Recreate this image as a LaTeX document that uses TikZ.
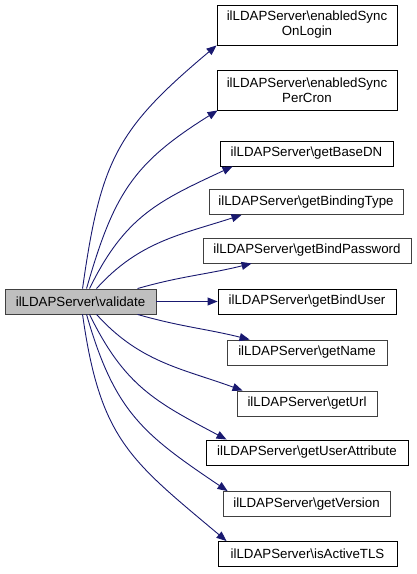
\documentclass[tikz,border=0pt]{standalone}
\usepackage{fontspec}
\setmainfont{Liberation Sans}
\definecolor{edgeblue}{RGB}{25, 25, 112}
\definecolor{framegray}{RGB}{64, 64, 64}
\definecolor{mainfill}{RGB}{191, 191, 191}
\usetikzlibrary{arrows.meta, positioning}

\begin{document}
\begin{tikzpicture}[x=1pt, y=1pt,
  fn/.style={draw=#1, fill=white, line width=0.9pt, minimum height=25pt, inner sep=0pt, align=center, font=\fontsize{13.3}{15}\selectfont},
  fn/.default=black,
  call/.style={draw=edgeblue, line width=0.9pt, -{Triangle[length=10pt, width=8pt]}},
]
  \useasboundingbox (0,0) rectangle (416,574);
  \node[fn=framegray, fill=mainfill, minimum width=151pt] (validate) at (80.5,272.5) {ilLDAPServer\textbackslash validate};

  \node[fn, minimum width=180pt, minimum height=40pt] (login) at (307,549) {ilLDAPServer\textbackslash enabledSync\\OnLogin};
  \node[fn, minimum width=180pt, minimum height=40pt] (percron) at (307,484) {ilLDAPServer\textbackslash enabledSync\\PerCron};
  \node[fn, minimum width=173pt] (basedn) at (306.5,420.5) {ilLDAPServer\textbackslash getBaseDN};
  \node[fn=framegray, minimum width=194pt] (bindingtype) at (306,372) {ilLDAPServer\textbackslash getBindingType};
  \node[fn=framegray, minimum width=208pt] (bindpw) at (307,323.5) {ilLDAPServer\textbackslash getBindPassword};
  \node[fn, minimum width=178pt] (binduser) at (307,272.5) {ilLDAPServer\textbackslash getBindUser};
  \node[fn=framegray, minimum width=160pt] (name) at (307,221.5) {ilLDAPServer\textbackslash getName};
  \node[fn=framegray, minimum width=140pt] (url) at (307,170.5) {ilLDAPServer\textbackslash getUrl};
  \node[fn, minimum width=202pt] (userattr) at (307,121.5) {ilLDAPServer\textbackslash getUserAttribute};
  \node[fn=framegray, minimum width=167pt] (version) at (306.5,70) {ilLDAPServer\textbackslash getVersion};
  \node[fn, minimum width=179pt] (tls) at (307.5,20) {ilLDAPServer\textbackslash isActiveTLS};

  \draw[call] ([xshift=78]validate.north west) to[out=82, in=220, looseness=1.2] (login.south west);
  \draw[call] ([xshift=82]validate.north west) to[out=74, in=212, looseness=1.15] ([xshift=1]percron.south west);
  \draw[call] ([xshift=85]validate.north west) to[out=64, in=205, looseness=1.1] ([xshift=13]basedn.south west);
  \draw[call] ([xshift=92]validate.north west) to[out=48, in=198] ([xshift=33]bindingtype.south west);
  \draw[call] ([xshift=133]validate.north west) to[out=16, in=194] ([xshift=49]bindpw.south west);
  \draw[call] (validate) -- (binduser);
  \draw[call] ([xshift=133]validate.south west) to[out=-16, in=166] ([xshift=23]name.north west);
  \draw[call] ([xshift=92]validate.south west) to[out=-48, in=160] ([xshift=6]url.north west);
  \draw[call] ([xshift=85]validate.south west) to[out=-64, in=152, looseness=1.1] ([xshift=21]userattr.north west);
  \draw[call] ([xshift=82]validate.south west) to[out=-74, in=146, looseness=1.15] ([xshift=5]version.north west);
  \draw[call] ([xshift=78]validate.south west) to[out=-82, in=140, looseness=1.2] ([xshift=9]tls.north west);
\end{tikzpicture}
\end{document}
